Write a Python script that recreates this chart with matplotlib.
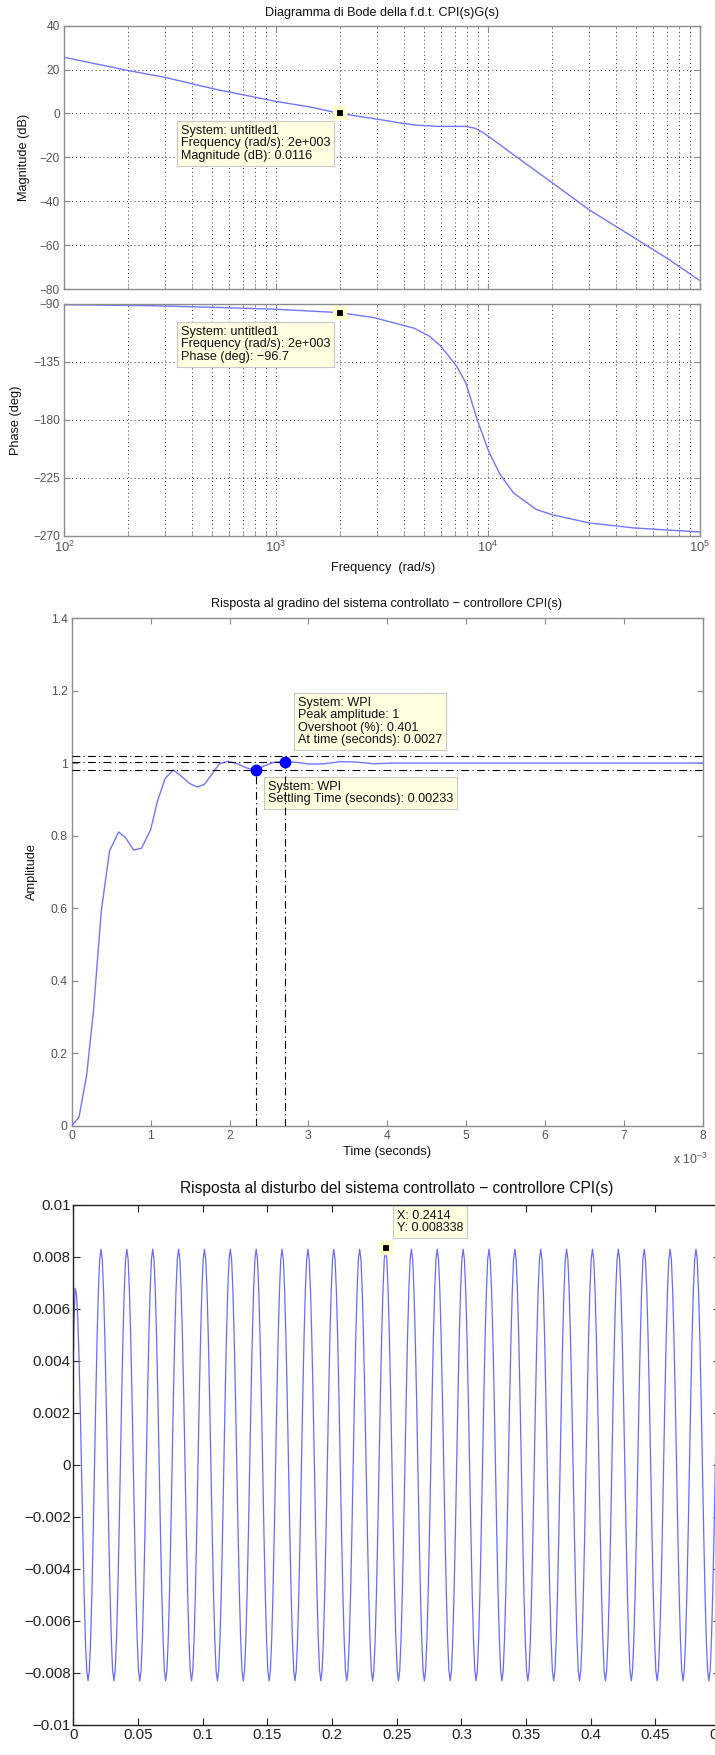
import numpy as np
import matplotlib.pyplot as plt

plt.rcParams['font.family'] = ['Liberation Sans', 'DejaVu Sans']
plt.rcParams['mathtext.fontset'] = 'custom'
plt.rcParams['mathtext.rm'] = 'Liberation Sans'
plt.rcParams['mathtext.it'] = 'Liberation Sans:italic'

# Bode diagram of CPI(s)G(s)
bode_freq = [100, 200, 298, 514, 1000, 1456, 2000, 3002, 3733, 4552, 5834, 7855,
             8672, 9576, 11110, 13550, 20170, 29990, 49240, 69660, 100000]
bode_mag = [25.6, 19.6, 16.5, 11.1, 5.5, 2.9, 0.0116, -2.6, -4.1, -5.3, -5.9, -5.9,
            -6.7, -9.0, -13.5, -19.6, -31.7, -43.9, -56.8, -65.9, -76.2]
phase_freq = [100, 258, 595, 1000, 2000, 2900, 4460, 5285, 5985, 7110, 7855, 8888,
              10070, 11400, 13200, 16940, 20000, 30000, 49000, 100000]
phase_deg = [-90.5, -91.3, -92.9, -94.1, -96.7, -100.6, -108.7, -114.9, -122.7, -138.2,
             -151.2, -179.7, -204.4, -222.5, -236.8, -249.7, -253.6, -260.1, -264.0, -267.1]
mag_ticks = [-80, -60, -40, -20, 0, 20, 40]
phase_ticks = [-270, -225, -180, -135, -90]
tip_freq = 2000
tip_mag = 0.0116
tip_phase = -96.7

# step response (time in ms)
step_t = [0, 0.092, 0.19, 0.277, 0.376, 0.48, 0.595, 0.68, 0.786, 0.884, 1.0, 1.087,
          1.185, 1.289, 1.393, 1.49, 1.59, 1.68, 1.78, 1.867, 1.98, 2.10, 2.21, 2.33,
          2.416, 2.56, 2.70, 2.85, 3.02, 3.20, 3.40, 3.60, 3.83, 4.06, 8.0]
step_y = [0, 0.023, 0.14, 0.32, 0.594, 0.758, 0.810, 0.795, 0.760, 0.765, 0.816, 0.895,
          0.958, 0.981, 0.963, 0.944, 0.934, 0.941, 0.970, 0.997, 1.005, 0.998, 0.987, 0.980,
          0.990, 1.002, 1.004, 1.002, 0.997, 0.998, 1.004, 1.003, 0.998, 1.0, 1.0]
settle_t, settle_y = 2.33, 0.98
peak_t, peak_y = 2.70, 1.004
settle_band = [0.98, 1.02]
step_yticks = [0, 0.2, 0.4, 0.6, 0.8, 1.0, 1.2, 1.4]

# disturbance response: 1 ms samples, first (transient) half cycle + repeated cycle
dist_t0 = [0.0, 0.0, 0.0004]
dist_y0 = [0.0028, 0.0040, 0.0052]
dist_first = [0.0068, 0.0066, 0.0057, 0.0042, 0.0021, -0.0003, -0.0027, -0.0050, -0.0068, -0.0079]
dist_cycle = [-0.0083, -0.0079, -0.0067, -0.0049, -0.0026, 0.0, 0.0026, 0.0049, 0.0067, 0.0079,
              0.0083, 0.0079, 0.0067, 0.0049, 0.0026, 0.0, -0.0026, -0.0049, -0.0067, -0.0079]
dist_dt = 0.001
dist_start = 0.0014
n_cycles = 25
dist_yticks = [-0.01, -0.008, -0.006, -0.004, -0.002, 0, 0.002, 0.004, 0.006, 0.008, 0.01]
dist_xticks = [0, 0.05, 0.1, 0.15, 0.2, 0.25, 0.3, 0.35, 0.4, 0.45, 0.5]
tip_x, tip_y = 0.2414, 0.008338

W, H = 715, 1755
fig = plt.figure(figsize=(W / 100, H / 100), dpi=100)


def box(l, r, t, b):
    return [l / W, 1 - b / H, (r - l) / W, (b - t) / H]


def ftext(x, y, s, **kw):
    fig.text(x / W, 1 - y / H, s, **kw)


def tip(ax, s, x, y, size=9.1):
    ax.annotate(s, xy=(x, H - y), xycoords='figure pixels', ha='left', va='top',
                fontsize=size, color='#111111', linespacing=1.05, zorder=4,
                annotation_clip=False,
                bbox=dict(boxstyle='square,pad=0.3', fc='#ffffe1', ec='#c8c8c8', lw=0.8))


blue = '#7474ff'
gray_ax = '#8c8c8c'
lab_col = '#555555'
grid_kw = dict(color='#333333', linestyle=(0, (1, 3)), linewidth=0.7)
tip_mark = dict(marker='s', ms=6.5, mfc='black', mec='#ffffcc', mew=3, linestyle='none', zorder=6)


def style_matlab(ax, spine_col, lab_color, size):
    for s in ax.spines.values():
        s.set_color(spine_col)
        s.set_linewidth(1.0)
    ax.tick_params(which='both', direction='in', top=True, right=True,
                   colors=spine_col, labelcolor=lab_color, labelsize=size, pad=3)
    ax.tick_params(which='major', length=4)
    ax.tick_params(which='minor', length=2)


# ---- Bode magnitude
ax_mag = fig.add_axes(box(64, 700, 25.7, 289))
ax_mag.semilogx(bode_freq, bode_mag, color=blue, lw=1.0)
ax_mag.plot([tip_freq], [tip_mag], **tip_mark)
ax_mag.set_xlim(1e2, 1e5)
ax_mag.set_ylim(-80, 40)
ax_mag.set_yticks(mag_ticks)
ax_mag.set_xticklabels([])
ax_mag.xaxis.set_minor_formatter(plt.NullFormatter())
ax_mag.grid(True, which='both', axis='x', **grid_kw)
ax_mag.grid(True, which='major', axis='y', **grid_kw)
style_matlab(ax_mag, gray_ax, lab_col, 8.6)
tip(ax_mag, 'System: untitled1\nFrequency (rad/s): 2e+003\nMagnitude (dB): 0.0116', 181, 125)

# ---- Bode phase
ax_ph = fig.add_axes(box(64, 700, 304, 535.7))
ax_ph.semilogx(phase_freq, phase_deg, color=blue, lw=1.0)
ax_ph.plot([tip_freq], [tip_phase], **tip_mark)
ax_ph.set_xlim(1e2, 1e5)
ax_ph.set_ylim(-270, -90)
ax_ph.set_yticks(phase_ticks)
ax_ph.xaxis.set_minor_formatter(plt.NullFormatter())
ax_ph.grid(True, which='both', axis='x', **grid_kw)
ax_ph.grid(True, which='major', axis='y', **grid_kw)
style_matlab(ax_ph, gray_ax, lab_col, 8.6)
ax_ph.tick_params(axis='x', labelsize=9.3)
tip(ax_ph, 'System: untitled1\nFrequency (rad/s): 2e+003\nPhase (deg): \u221296.7', 181, 326)

ftext(382, 13, 'Diagramma di Bode della f.d.t. CPI(s)G(s)', ha='center', va='center', fontsize=9.1, color='#111111')
ftext(24, 157, 'Magnitude (dB)', ha='center', va='center', rotation=90, fontsize=9.2, color='#111111')
ftext(16, 420, 'Phase (deg)', ha='center', va='center', rotation=90, fontsize=9.2, color='#111111')
ftext(383, 568, 'Frequency  (rad/s)', ha='center', va='center', fontsize=9.2, color='#111111')

# ---- step response
ax_st = fig.add_axes(box(71.7, 703, 618, 1125.7))
ax_st.plot(step_t, step_y, color=blue, lw=1.0, zorder=3)
dd = (0, (7, 3, 1, 3))
for lev in settle_band:
    ax_st.plot([0, 8], [lev, lev], color='black', lw=0.8, linestyle=dd, zorder=5)
ax_st.plot([0, peak_t], [peak_y, peak_y], color='black', lw=0.8, linestyle=dd, zorder=5)
ax_st.plot([settle_t, settle_t], [0, settle_y], color='black', lw=0.8, linestyle=dd, zorder=5)
ax_st.plot([peak_t, peak_t], [0, peak_y], color='black', lw=0.8, linestyle=dd, zorder=5)
ax_st.plot([settle_t, peak_t], [settle_y, peak_y], 'o', color='#0000ff', ms=7.5, zorder=6)
ax_st.set_xlim(0, 8)
ax_st.set_ylim(0, 1.4)
ax_st.set_xticks(range(9))
ax_st.set_yticks(step_yticks)
ax_st.set_yticklabels(['%g' % v for v in step_yticks])
style_matlab(ax_st, gray_ax, lab_col, 8.8)
tip(ax_st, 'System: WPI\nPeak amplitude: 1\nOvershoot (%): 0.401\nAt time (seconds): 0.0027', 298, 697)
tip(ax_st, 'System: WPI\nSettling Time (seconds): 0.00233', 268, 781)

ftext(387, 604, 'Risposta al gradino del sistema controllato \u2212 controllore CPI(s)', ha='center', va='center', fontsize=9.1, color='#111111')
ftext(32, 872, 'Amplitude', ha='center', va='center', rotation=90, fontsize=9.2, color='#111111')
ftext(387, 1152, 'Time (seconds)', ha='center', va='center', fontsize=9.3, color='#111111')
ftext(673, 1159, 'x 10$^{-3}$', ha='left', va='center', fontsize=8.8, color=lab_col)

# ---- disturbance response
first_t = dist_start + dist_dt * np.arange(len(dist_first))
cyc_y = np.tile(dist_cycle, n_cycles)
cyc_t = first_t[-1] + dist_dt + dist_dt * np.arange(len(cyc_y))
keep = cyc_t <= 0.5
d_t = np.concatenate([dist_t0, first_t, cyc_t[keep]])
d_y = np.concatenate([dist_y0, dist_first, cyc_y[keep]])

ax_d = fig.add_axes(box(73.3, 720, 1205, 1725))
ax_d.plot(d_t, d_y, color='#6a6aff', lw=0.9)
ax_d.plot([tip_x], [tip_y], **tip_mark)
ax_d.set_xlim(0, 0.5)
ax_d.set_ylim(-0.01, 0.01)
ax_d.set_xticks(dist_xticks)
ax_d.set_xticklabels(['%g' % v for v in dist_xticks])
ax_d.set_yticks(dist_yticks)
ax_d.set_yticklabels([('%g' % v).replace('-', '\u2212') for v in dist_yticks])
style_matlab(ax_d, '#222222', '#222222', 10.8)
ax_d.tick_params(which='major', length=5, pad=2)
tip(ax_d, 'X: 0.2414\nY: 0.008338', 397, 1210, size=9.0)

ftext(397, 1188, 'Risposta al disturbo del sistema controllato \u2212 controllore CPI(s)', ha='center', va='center', fontsize=11.2, color='#111111')

fig.savefig('out.png', dpi=100)
